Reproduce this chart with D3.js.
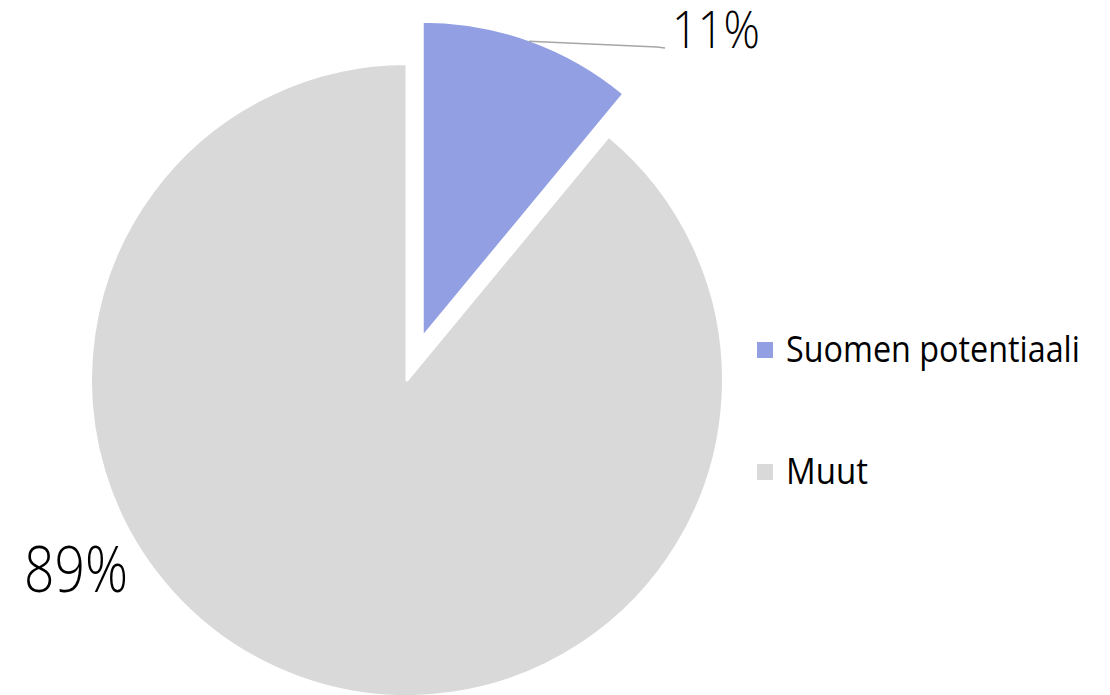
<!DOCTYPE html>
<html>
<head>
<meta charset="utf-8">
<script src="https://cdn.jsdelivr.net/npm/d3@7"></script>
<style>
  html, body { margin: 0; padding: 0; background: #fff; }
  svg { display: block; }
  text { font-family: "Open Sans", "Noto Sans", sans-serif; fill: #000; }
  .pct { font-weight: 300; }
  .legend-label { font-weight: 400; }
</style>
</head>
<body>
<svg id="chart" width="1110" height="695"></svg>
<script>
// Share of the total, in percent
const categories = ["Suomen potentiaali", "Muut"];
const values = [11, 89];
const colors = ["#929FE3", "#D9D9D9"];
const labels = values.map(v => v + "%");

const cx = 407, cy = 380;
const radius = 316.5;        // outer radius incl. the white slice border
const explode = 45;          // how far the first slice is pulled out

const svg = d3.select("#chart");

const pie = d3.pie().sort(null).value(d => d.value);
const arcs = pie(categories.map((c, i) => ({ name: c, value: values[i], color: colors[i] })));

const arc = d3.arc().innerRadius(0).outerRadius(radius);

const g = svg.append("g").attr("transform", `translate(${cx},${cy})`);

function offsetOf(d, i) {
  if (i !== 0) return [0, 0];
  const mid = (d.startAngle + d.endAngle) / 2;
  return [explode * Math.sin(mid), -explode * Math.cos(mid)];
}

g.selectAll("path.slice")
  .data(arcs)
  .join("path")
  .attr("class", "slice")
  .attr("d", arc)
  .attr("fill", d => d.data.color)
  .attr("stroke", "#fff")
  .attr("stroke-width", 3)
  .attr("stroke-linejoin", "round")
  .attr("transform", (d, i) => { const o = offsetOf(d, i); return `translate(${o[0]},${o[1]})`; });

// Leader line for the exploded slice, starting on its outer edge
const first = arcs[0];
const mid0 = (first.startAngle + first.endAngle) / 2;
const o0 = offsetOf(first, 0);
const rEdge = radius - 1.5;
const p0 = [cx + o0[0] + rEdge * Math.sin(mid0), cy + o0[1] - rEdge * Math.cos(mid0)];
svg.append("path")
  .attr("d", d3.line()([p0, [657, 47], [665, 48]]))
  .attr("fill", "none")
  .attr("stroke", "#A6A6A6")
  .attr("stroke-width", 1.5);

// Draws a text and narrows it horizontally to the given width
function fitText(sel, cls, x, y, size, w, str) {
  const t = sel.append("text")
    .attr("class", cls)
    .attr("x", 0).attr("y", 0)
    .attr("font-size", size)
    .text(str);
  const natural = t.node().getComputedTextLength();
  const sx = natural > 0 ? w / natural : 1;
  t.attr("transform", `translate(${x},${y}) scale(${sx},1)`);
  return t;
}

// Percentage labels
fitText(svg, "pct", 672, 48, 51, 88, labels[0]);
fitText(svg, "pct", 24, 592, 64, 104, labels[1]);

// Legend
const legendWidths = [294, 82];
categories.forEach((c, i) => {
  const y0 = 342 + i * 122;
  svg.append("rect")
    .attr("x", 757).attr("y", y0)
    .attr("width", 16).attr("height", 16)
    .attr("fill", colors[i]);
  fitText(svg, "legend-label", 786, y0 + 20, 37, legendWidths[i], c);
});
</script>
</body>
</html>
